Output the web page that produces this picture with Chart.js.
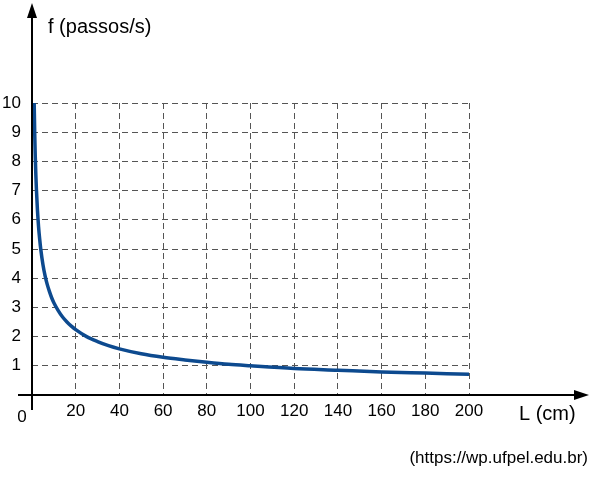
<!DOCTYPE html>
<html><head><meta charset="utf-8">
<script src="https://cdn.jsdelivr.net/npm/chart.js@4/dist/chart.umd.min.js"></script>
<style>html,body{margin:0;padding:0;background:#fff}#w{width:595px;height:480px}</style>
</head><body><div id="w"><canvas id="c"></canvas></div>
<script>
const L = [1,1.25,1.5,1.75,2,2.5,3,3.5,4,5,6,7,8,9,10,12,14,16,18,20,25,30,35,40,50,60,70,80,90,100,120,140,160,180,200];
const F = [10,8.94,8.16,7.56,7.07,6.32,5.77,5.35,5.0,4.47,4.08,3.78,3.54,3.33,3.16,2.89,2.67,2.5,2.36,2.24,2.0,1.83,1.69,1.58,1.41,1.29,1.2,1.12,1.05,1.0,0.91,0.85,0.79,0.75,0.71];
const xTicks = [0,20,40,60,80,100,120,140,160,180,200];
const yTicks = [1,2,3,4,5,6,7,8,9,10];
const FONT = '"Liberation Sans", Arial, sans-serif';
const axes = {
  id:'axes',
  afterDraw(ch){
    const c=ch.ctx;
    const x0=ch.scales.x.getPixelForValue(0), y0=ch.scales.y.getPixelForValue(0);
    c.save();
    c.strokeStyle='#000'; c.fillStyle='#000'; c.lineWidth=2;
    c.beginPath(); c.moveTo(18,y0); c.lineTo(580,y0); c.moveTo(x0,410); c.lineTo(x0,12); c.stroke();
    c.beginPath(); c.moveTo(589,y0); c.lineTo(574,y0-5); c.lineTo(574,y0+5); c.closePath(); c.fill();
    c.beginPath(); c.moveTo(x0,3); c.lineTo(x0-5,18); c.lineTo(x0+5,18); c.closePath(); c.fill();
    c.font='20px '+FONT; c.textBaseline='middle';
    c.textAlign='left'; c.fillText('f (passos/s)',48,27);
    c.fillText('L (cm)',519,414);
    c.font='17px '+FONT; c.textAlign='right'; c.fillText('(https://wp.ufpel.edu.br)',588,458);
    c.font='17px '+FONT; c.textAlign='center'; c.fillText('0',22,417);
    c.restore();
  }
};
new Chart(document.getElementById('c'),{
  type:'line',
  data:{datasets:[{data:L.map((v,i)=>({x:v,y:F[i]})),borderColor:'#0d4a8f',borderWidth:3.5,pointRadius:0,cubicInterpolationMode:'monotone',fill:false}]},
  options:{
    responsive:true,maintainAspectRatio:false,animation:false,
    layout:{padding:{top:103,right:126,bottom:55,left:0}},
    plugins:{legend:{display:false},tooltip:{enabled:false}},
    scales:{
      x:{type:'linear',min:0,max:200,
        afterFit(s){s.height=30;},
        afterBuildTicks(s){s.ticks=xTicks.map(v=>({value:v}));},
        ticks:{padding:6,color:'#000',font:{family:FONT,size:17},maxRotation:0,autoSkip:false,callback:v=>v===0?'':v},
        grid:{color:'#555',lineWidth:1,drawTicks:false,tickLength:0},border:{display:false,dash:[6,4]}},
      y:{type:'linear',min:0,max:10,
        afterFit(s){s.width=32;},
        afterBuildTicks(s){s.ticks=yTicks.map(v=>({value:v}));},
        ticks:{padding:11,color:'#000',font:{family:FONT,size:17},autoSkip:false},
        grid:{color:'#555',lineWidth:1,drawTicks:false,tickLength:0},border:{display:false,dash:[6,4]}}
    }
  },
  plugins:[axes]
});
</script></body></html>
